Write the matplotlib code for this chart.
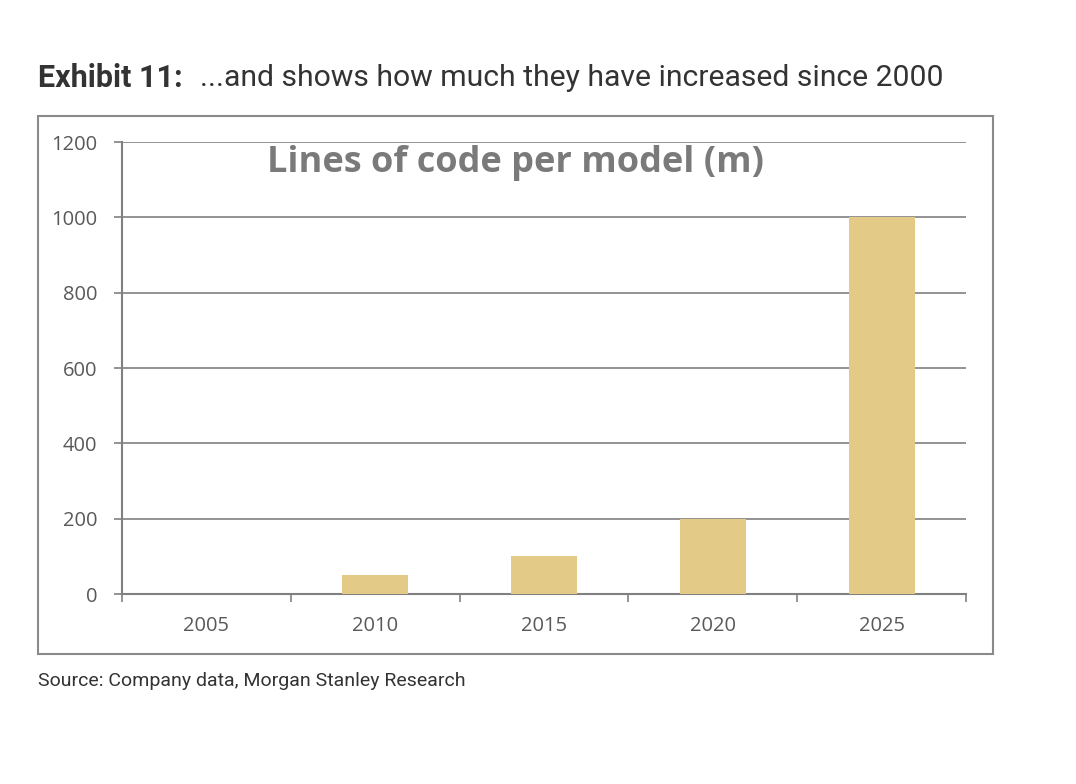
import matplotlib.pyplot as plt
from matplotlib.patches import Rectangle
import numpy as np

years = ['2005', '2010', '2015', '2020', '2025']
lines_of_code = [0, 50, 100, 200, 1000]
y_ticks = [0, 200, 400, 600, 800, 1000, 1200]

bar_color = '#E3CA86'
grey = '#808080'
label_grey = '#595959'

fig = plt.figure(figsize=(10.76, 7.84), dpi=100)

# outer frame round the chart
fig.patches.append(Rectangle((0.0353, 0.1658), 0.8875, 0.686, transform=fig.transFigure,
                             fill=False, edgecolor='#8a8a8a', linewidth=1.5))

ax = fig.add_axes([0.1134, 0.2423, 0.7844, 0.5765])
x = np.arange(len(years))
ax.bar(x, lines_of_code, width=0.39, color=bar_color, zorder=3)

ax.set_xlim(-0.5, len(years) - 0.5)
ax.set_ylim(0, 1200)
ax.set_yticks(y_ticks)
ax.set_yticklabels([str(v) for v in y_ticks], fontsize=14.5, color=label_grey, family='Open Sans')
ax.set_xticks(x)
ax.set_xticklabels(years, fontsize=14.5, color=label_grey, family='Open Sans')
ax.set_xticks(np.arange(-0.5, len(years)), minor=True)
ax.tick_params(axis='x', which='major', length=0, pad=16)
ax.tick_params(axis='x', which='minor', length=6, color=grey, width=1.2, direction='out')
ax.tick_params(axis='y', length=6, color=grey, width=1.2, pad=12)

ax.grid(axis='y', color=grey, linewidth=1.2, zorder=0)
for s in ['top', 'right']:
    ax.spines[s].set_visible(False)
for s in ['left', 'bottom']:
    ax.spines[s].set_color(grey)
    ax.spines[s].set_linewidth(1.5)

# chart title is centred on the outer frame, not on the axes
fig.text(0.4791, 0.792, 'Lines of code per model (m)', ha='center', va='center',
         fontsize=26, fontweight='bold', color='#7a7a7a', family='Open Sans')

fig.text(0.0353, 0.9, 'Exhibit 11:', fontsize=22, fontweight='bold', color='#333333',
         family='Roboto', va='center')
fig.text(0.186, 0.9, '...and shows how much they have increased since 2000', fontsize=21.7,
         color='#333333', family='Roboto', va='center')
fig.text(0.0353, 0.131, 'Source: Company data, Morgan Stanley Research', fontsize=14,
         color='#333333', family='Roboto', va='center')

fig.savefig('out.png', dpi=100)
